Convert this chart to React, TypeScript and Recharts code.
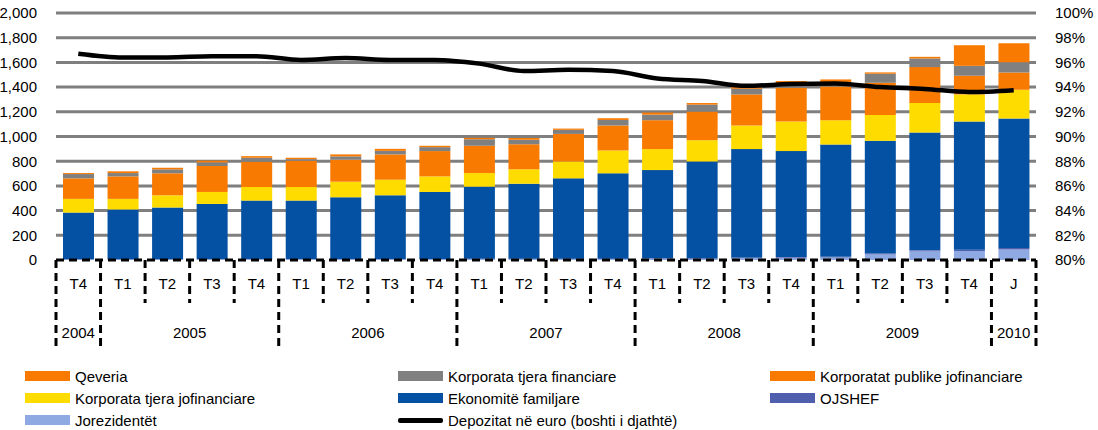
import React from 'react';
import { ComposedChart, Bar, Line, XAxis, YAxis, CartesianGrid } from 'recharts';

const quarters = ['T4','T1','T2','T3','T4','T1','T2','T3','T4','T1','T2','T3','T4','T1','T2','T3','T4','T1','T2','T3','T4','J'];
const years = ['2004','2005','2005','2005','2005','2006','2006','2006','2006','2007','2007','2007','2007','2008','2008','2008','2008','2009','2009','2009','2009','2010'];

const jorezidentet = [5,5,5,6,6,6,7,7,7,8,8,8,8,10,10,15,18,20,45,70,73,86];
const ojshef = [2,2,2,2,2,2,2,2,2,2,2,3,3,4,5,6,6,6,8,8,10,11];
const ekonomite = [377,402,418,446,473,473,499,515,542,584,608,650,691,714,783,877,858,909,912,954,1038,1048];
const korpJofin = [111,86,99,97,110,110,126,126,126,110,116,137,185,170,172,191,239,197,210,240,220,234];
const korpPublike = [166,182,178,210,205,213,178,205,205,221,204,223,202,234,232,252,274,273,260,290,151,140];
const korpFin = [35,27,32,29,32,13,27,29,32,53,35,33,45,45,56,46,35,35,73,70,80,83];
const qeveria = [8,14,13,14,13,11,16,16,11,11,14,10,14,17,13,13,19,22,11,13,167,153];
const depozitatEuro = [96.7,96.4,96.4,96.5,96.5,96.2,96.35,96.2,96.2,95.9,95.3,95.4,95.3,94.7,94.5,94.1,94.25,94.3,94.0,93.85,93.6,93.75];

const leftTicks = [0,200,400,600,800,1000,1200,1400,1600,1800,2000];
const rightTicks = [80,82,84,86,88,90,92,94,96,98,100];

const COLORS = {
  qeveria: '#F97A00',
  korpFin: '#808080',
  korpPublike: '#F97A00',
  korpJofin: '#FFDC00',
  ekonomite: '#0450A2',
  ojshef: '#4F5FAD',
  jorezidentet: '#8FA9E2',
};

const data = quarters.map((q, i) => ({
  cat: `${q}-${years[i]}-${i}`,
  q,
  year: years[i],
  jorezidentet: jorezidentet[i],
  ojshef: ojshef[i],
  ekonomite: ekonomite[i],
  korpJofin: korpJofin[i],
  korpPublike: korpPublike[i],
  korpFin: korpFin[i],
  qeveria: qeveria[i],
  euro: depozitatEuro[i],
}));

const CHART_W = 1098;
const CHART_H = 430;
const LEFT_W = 56;
const RIGHT_W = 62;
const TOP = 13;
const PLOT_BOTTOM = 260;
const XAXIS_H = CHART_H - PLOT_BOTTOM;
const BAND = (CHART_W - LEFT_W - RIGHT_W) / quarters.length;
const FONT = '"Liberation Sans", Arial, Helvetica, sans-serif';
const FS = 15;

const DASH = { stroke: '#000', strokeWidth: 3, strokeDasharray: '8 5' };

function XTick(props: any) {
  const { x, y, index } = props;
  const i = index as number;
  const isYearStart = i === 0 || years[i] !== years[i - 1];
  const leftX = x - BAND / 2;
  const rightX = x + BAND / 2;
  const shortEnd = y + 43;
  const longEnd = y + 90;
  let yearLabel = null;
  if (isYearStart) {
    let count = 0;
    for (let k = i; k < years.length && years[k] === years[i]; k++) count++;
    const cx = x + ((count - 1) / 2) * BAND;
    yearLabel = (
      <text x={cx} y={y + 72} textAnchor="middle" dominantBaseline="central" fontSize={FS} fill="#000" fontFamily={FONT}>
        {years[i]}
      </text>
    );
  }
  return (
    <g>
      <line x1={leftX} x2={leftX} y1={y} y2={isYearStart ? longEnd : shortEnd} {...DASH} />
      {i === quarters.length - 1 && <line x1={rightX} x2={rightX} y1={y} y2={longEnd} {...DASH} />}
      <text x={x} y={y + 23} textAnchor="middle" dominantBaseline="central" fontSize={FS} fill="#000" fontFamily={FONT}>
        {quarters[i]}
      </text>
      {yearLabel}
    </g>
  );
}

const legendItems = [
  { label: 'Qeveria', color: COLORS.qeveria, col: 0, row: 0 },
  { label: 'Korporata tjera financiare', color: COLORS.korpFin, col: 1, row: 0 },
  { label: 'Korporatat publike jofinanciare', color: COLORS.korpPublike, col: 2, row: 0 },
  { label: 'Korporata tjera jofinanciare', color: COLORS.korpJofin, col: 0, row: 1 },
  { label: 'Ekonomitë familjare', color: COLORS.ekonomite, col: 1, row: 1 },
  { label: 'OJSHEF', color: COLORS.ojshef, col: 2, row: 1 },
  { label: 'Jorezidentët', color: COLORS.jorezidentet, col: 0, row: 2 },
  { label: 'Depozitat në euro (boshti i djathtë)', color: '#000', col: 1, row: 2, line: true },
];
const colX = [25, 398, 770];
const rowY = [376, 398, 420];

export default function App() {
  return (
    <div style={{ position: 'absolute', left: 0, top: 0, width: CHART_W, height: CHART_H, background: '#fff', fontFamily: FONT }}>
      <ComposedChart
        width={CHART_W}
        height={CHART_H}
        data={data}
        margin={{ top: TOP, right: 0, bottom: 0, left: 0 }}
        barSize={31}
      >
        <CartesianGrid vertical={false} stroke="#7f7f7f" strokeWidth={3} horizontalValues={leftTicks.slice(1)} />
        <XAxis
          dataKey="cat"
          height={XAXIS_H}
          axisLine={DASH}
          tickLine={false}
          tickSize={0}
          tickMargin={0}
          interval={0}
          tick={<XTick />}
        />
        <YAxis
          width={LEFT_W}
          domain={[0, 2000]}
          ticks={leftTicks}
          axisLine={false}
          tickLine={false}
          tickSize={0}
          tickMargin={19}
          interval={0}
          tickFormatter={(v: number) => v.toLocaleString('en-US')}
          tick={{ fontSize: FS, fill: '#000', fontFamily: FONT }}
        />
        <YAxis
          yAxisId="right"
          orientation="right"
          width={RIGHT_W}
          domain={[80, 100]}
          ticks={rightTicks}
          axisLine={false}
          tickLine={false}
          tickSize={0}
          tickMargin={19}
          interval={0}
          tickFormatter={(v: number) => `${v}%`}
          tick={{ fontSize: FS, fill: '#000', fontFamily: FONT, textAnchor: 'start' }}
        />
        <Bar dataKey="jorezidentet" stackId="a" fill={COLORS.jorezidentet} isAnimationActive={false} />
        <Bar dataKey="ojshef" stackId="a" fill={COLORS.ojshef} isAnimationActive={false} />
        <Bar dataKey="ekonomite" stackId="a" fill={COLORS.ekonomite} isAnimationActive={false} />
        <Bar dataKey="korpJofin" stackId="a" fill={COLORS.korpJofin} isAnimationActive={false} />
        <Bar dataKey="korpPublike" stackId="a" fill={COLORS.korpPublike} isAnimationActive={false} />
        <Bar dataKey="korpFin" stackId="a" fill={COLORS.korpFin} isAnimationActive={false} />
        <Bar dataKey="qeveria" stackId="a" fill={COLORS.qeveria} isAnimationActive={false} />
        <Line
          yAxisId="right"
          dataKey="euro"
          type="monotone"
          stroke="#000"
          strokeWidth={4.5}
          dot={false}
          activeDot={false}
          isAnimationActive={false}
        />
      </ComposedChart>
      {legendItems.map((it) => (
        <div
          key={it.label}
          style={{ position: 'absolute', left: colX[it.col], top: rowY[it.row] - 9, height: 18, display: 'flex', alignItems: 'center', whiteSpace: 'nowrap' }}
        >
          {it.line ? (
            <div style={{ width: 45, height: 5, background: '#000', borderRadius: 2 }} />
          ) : (
            <div style={{ width: 45, height: 10, background: it.color }} />
          )}
          <span style={{ marginLeft: 5, fontSize: FS, color: '#000' }}>{it.label}</span>
        </div>
      ))}
    </div>
  );
}
